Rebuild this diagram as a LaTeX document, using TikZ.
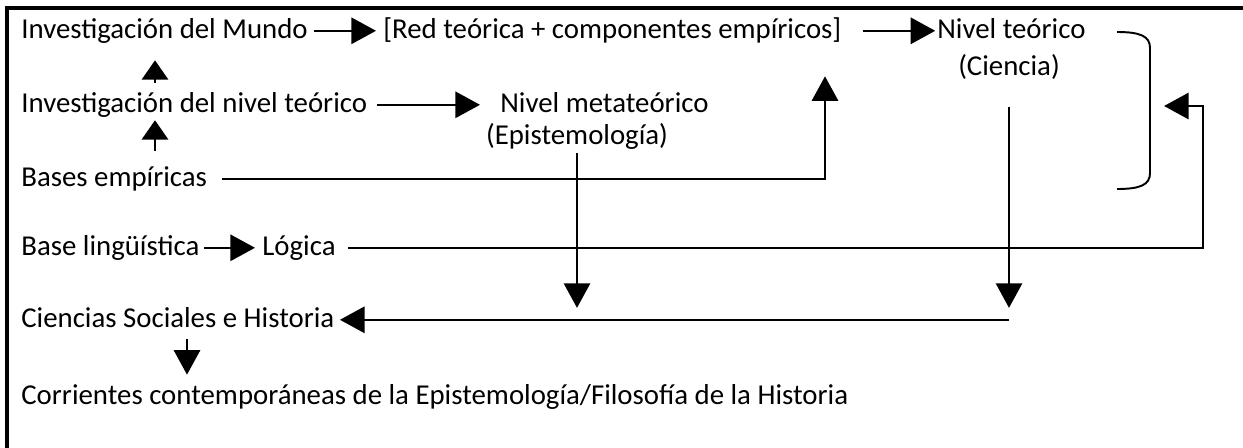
\documentclass[tikz,border=0pt]{standalone}
\usepackage{fontspec}
\setmainfont{Carlito}
\usepackage{tikz}
\usetikzlibrary{arrows.meta}

\begin{document}
\begin{tikzpicture}[x=0.02cm,y=-0.02cm,
  txt/.style={anchor=base west,inner sep=0pt,text height=12.2pt,text depth=4pt,font=\fontsize{16.4}{19.5}\selectfont},
  linea/.style={line width=1.1pt},
  flecha/.style={linea,-{Triangle[length=14pt,width=15pt]}},
  flechacorta/.style={linea,-{Triangle[length=11pt,width=15pt]}}]
\useasboundingbox (0,0) rectangle (1243,447);
\clip (0,0) rectangle (1243,447);
\draw[line width=1.8pt] (7,470) -- (7,8) -- (1270,8);
\node[txt] (mundo) at (21,38) {Investigación del Mundo};
\node[txt] (red) at (383,38) {[Red teórica + componentes empíricos]};
\node[txt] (nivteo) at (937,38) {Nivel teórico};
\node[txt,anchor=base] (ciencia) at (1009,75) {(Ciencia)};
\node[txt] (invnivel) at (21,112) {Investigación del nivel teórico};
\node[txt] (nivmeta) at (500,112) {Nivel metateórico};
\node[txt,anchor=base] (epist) at (577,144) {(Epistemología)};
\node[txt] (bases) at (21,186) {Bases empíricas};
\node[txt] (baseling) at (21,255) {Base lingüística};
\node[txt] (logica) at (262,255) {Lógica};
\node[txt] (ciencias) at (21,327) {Ciencias Sociales e Historia};
\node[txt] (corrientes) at (21,404) {Corrientes contemporáneas de la Epistemología/Filosofía de la Historia};
\coordinate (ejeA) at (155,0);
\coordinate (codoA) at (825,0);
\coordinate (ejeC) at (187,0);
\coordinate (codoD) at (1203,106);
\coordinate (llave) at (1150,106);
\draw[flecha,shorten <=3.4pt,shorten >=4pt] (mundo.east) -- (mundo.east -| red.west);
\draw[flecha,shorten <=12pt,shorten >=1pt] (red.east) -- (red.east -| nivteo.west);
\draw[flechacorta,shorten <=4.3pt,shorten >=8.5pt] (ejeA |- invnivel.north) -- (ejeA |- mundo.south);
\draw[flechacorta,shorten <=7.7pt,shorten >=0.5pt] (ejeA |- bases.north) -- (ejeA |- invnivel.south);
\draw[flecha,shorten <=5.7pt,shorten >=11.4pt] (invnivel.east) -- (invnivel.east -| nivmeta.west);
\draw[flecha,shorten <=8.5pt,shorten >=17.6pt] (bases.east) -| (codoA |- red.south);
\draw[flecha,shorten <=1pt,shorten >=6.8pt] (epist.south) -- (epist.south |- ciencias.east);
\draw[flecha,shorten <=14pt,shorten >=6.8pt] (ciencia.south) -- (ciencia.south |- ciencias.east);
\draw[flecha,shorten >=3pt] (ciencia.south |- ciencias.east) -- (ciencias.east);
\draw[flecha,shorten <=2.8pt,shorten >=4.3pt] (ejeC |- ciencias.south) -- (ejeC |- corrientes.north);
\draw[flecha,shorten <=2.5pt,shorten >=4pt] (baseling.east) -- (logica.west);
\draw[flecha,shorten <=7pt,shorten >=8pt] (logica.east) -- (logica.east -| codoD) -- (codoD) -- (llave);
\draw[linea] (1117,32) .. controls (1140,32) and (1150,36) .. (1150,48) -- (1150,173) .. controls (1150,185) and (1140,189) .. (1117,189);
\end{tikzpicture}
\end{document}
